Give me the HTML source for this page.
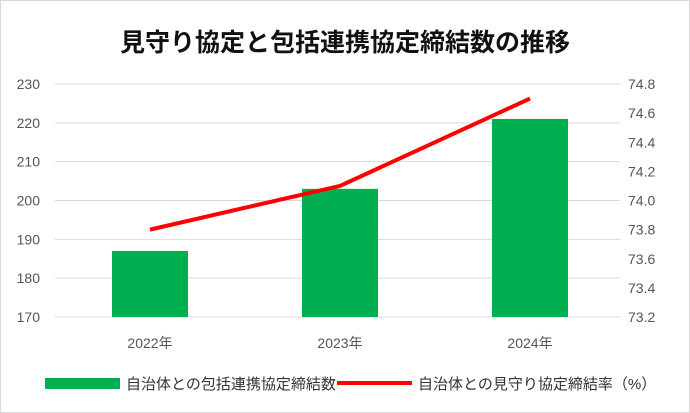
<!DOCTYPE html>
<html><head><meta charset="utf-8"><style>
body{margin:0;background:#fff;}
svg{display:block;font-family:"Liberation Sans","Noto Sans CJK JP",sans-serif;}
</style></head><body>
<svg id="c" width="690" height="413">
<rect x="0.5" y="0.5" width="689" height="412" fill="#fff" stroke="#d9d9d9"/>
<text x="345" y="51" text-anchor="middle" font-size="25" font-weight="bold" fill="#111">見守り協定と包括連携協定締結数の推移</text>
<g id="g"></g>
<g>
<rect x="45" y="378" width="75" height="11" fill="#00b050"/>
<text x="126" y="389" font-size="15" fill="#333">自治体との包括連携協定締結数</text>
<line x1="337" y1="383" x2="412" y2="383" stroke="#ff0000" stroke-width="4"/>
<text x="418" y="389" font-size="15" fill="#333">自治体との見守り協定締結率（%）</text>
</g>
</svg>
<script>
const categories=["2022年","2023年","2024年"];
const barValues=[187,203,221];
const lineValues=[73.8,74.1,74.7];
const leftTicks=[170,180,190,200,210,220,230];
const rightTicks=["73.2","73.4","73.6","73.8","74.0","74.2","74.4","74.6","74.8"];
const NS="http://www.w3.org/2000/svg";
const g=document.getElementById('g');
const L=55,R=625,T=84,B=317;
const yL=v=>B-(v-170)/(230-170)*(B-T);
const yR=v=>B-(v-73.2)/(74.8-73.2)*(B-T);
const bw=(R-L)/categories.length;
const xC=i=>L+bw*(i+0.5);
function mk(t,a){const e=document.createElementNS(NS,t);for(const k in a)e.setAttribute(k,a[k]);g.appendChild(e);return e;}
leftTicks.forEach(v=>{
 const l=mk('line',{x1:L,x2:R-5,y1:yL(v),y2:yL(v),stroke:'#d9d9d9','stroke-width':1});
 
 
 const t=mk('text',{x:40,y:yL(v)+5,'text-anchor':'end','font-size':14,fill:'#555'});
 t.textContent=v;
 
 
});
rightTicks.forEach(v=>{
 const t=mk('text',{x:628,y:yR(+v)+5,'font-size':14,fill:'#555'});
 t.textContent=v;
 
 
});
categories.forEach((c,i)=>{
 const r=mk('rect',{x:xC(i)-38,y:yL(barValues[i]),width:76,height:B-yL(barValues[i]),fill:'#00b050'});
 
 
 const t=mk('text',{x:xC(i),y:348,'text-anchor':'middle','font-size':14,fill:'#555'});
 t.textContent=c;
 
 
});
const p=mk('polyline',{points:lineValues.map((v,i)=>xC(i)+','+yR(v)).join(' '),fill:'none',stroke:'#ff0000','stroke-width':4,'stroke-linejoin':'round'});


</script>
</body></html>
